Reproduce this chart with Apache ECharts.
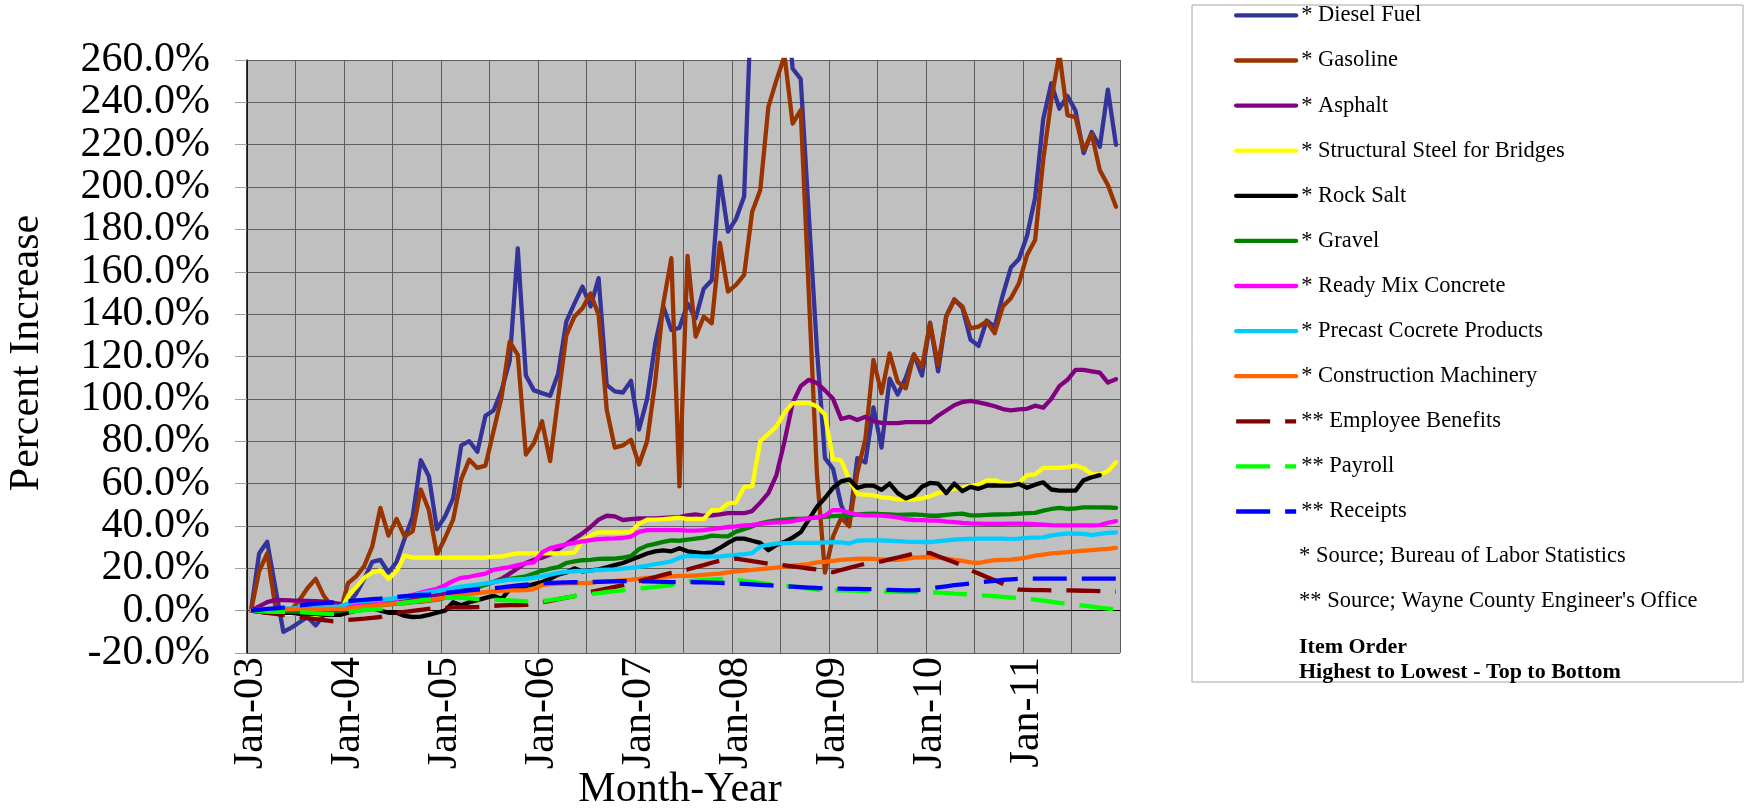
<!DOCTYPE html>
<html>
<head>
<meta charset="utf-8">
<script src="https://cdn.jsdelivr.net/npm/echarts@6/dist/echarts.min.js"></script>
<style>
html,body{margin:0;padding:0;background:#ffffff;}
#chart{width:1745px;height:809px;}
</style>
</head>
<body>
<div id="chart"></div>
<script>
// ---------- categories ----------
const monthNames = ['Jan','Feb','Mar','Apr','May','Jun','Jul','Aug','Sep','Oct','Nov','Dec'];
const yearLabels = ['03','04','05','06','07','08','09','10','11'];
const categories = [];
yearLabels.forEach(function (y) { monthNames.forEach(function (m) { categories.push(m + '-' + y); }); });

// ---------- y axis ticks ----------
const yMin = -20, yMax = 260, yStep = 20;

// ---------- series values (percent increase since Jan-03) ----------
const dieselFuel = [0,27,32.5,11,-10,-8,-5.5,-3,-7,-2,-1,0,
  3,8,15,23,24,18,23,34,44.5,71,63.5,38.5,
  44.5,53,78,80,75,92,94.5,104,118,171,111,104,
  102.7,101.5,112,136.5,145,153,143.6,157,106.6,103.5,103,108.5,
  85.5,100,126,143.6,132.5,133.5,145,138,152,156,205,179,
  185,195.5,300,320,340,350,300,256,251,187,124,72,
  67,50,41,72,70,96,77,109.5,102,110,121,111,
  136,113,139,147,143,128,125,137,134,149,162,166,
  177,195,232,249,237,243,236,216,226,219,246,220];
const gasoline = [0,18.6,27,2,-1,0.5,5,10.7,15,7,2,-1,
  13,16.2,21,30.4,48.5,35.4,43.3,35.1,37.5,57.2,47.4,26.5,
  34.3,43,62,71.3,67.4,68.5,84.7,101,127,120.8,73.7,79.2,
  89.4,70.6,100.5,130,138.8,142.8,149.8,139.6,95,77,78,80.7,
  69,80,108,145,166.4,58.7,167.5,129.4,138.8,135.7,173.7,150.6,
  153.8,158.5,188.4,198.6,237.9,250.5,262,230,236.3,150,65,18,
  35,43.8,39.8,65,81,118.4,102.7,121.5,108,105,121,115,
  135.7,116,138.8,146.7,143.6,133.3,134.1,136.5,131,143.6,147.5,154.6,
  167.9,175,212.7,241,263,234,233,217.5,225,208,201,190.7];
const asphalt = [0,2,4,5,5,4.8,4.7,4.6,4.5,4.2,3.8,3.2,
  3,3.3,3.6,4,4.3,4.6,5,5.5,6,6.5,7,7.5,
  8,8.8,10.5,11,11.5,12.3,13.5,15,17.5,20,22.5,24,
  25,26.5,29,31.5,34,36.5,39.5,43,44.8,44.5,42.8,43.2,
  43.5,43.5,43.6,43.8,44,44.2,45,45.4,44.8,45,45.5,46,
  46,46,47,51,55.5,64,80,98,106,109,107.5,104,
  100,90.5,91.5,90,91.5,89.5,88.7,88.5,88.5,89,89,89,
  89,92,94.5,97,98.5,99,98.3,97.5,96.5,95.2,94.6,95,
  95.3,96.8,95.8,100,106,109,113.7,113.7,113,112.4,107.7,109.3];
const structuralSteel = [0,-0.5,-1,-1,-1.5,-1.5,-1.5,-1.8,-2,-2,-2,-1,
  7,11,15.5,18,19,15,18.5,26,25,25,25,25,
  25,25,25,25,25,25,25.5,25.5,26.5,27,27,27,
  27,27,27,27,27.5,33,35.5,37,37,37,37,37.2,
  41,43,43,43.2,43.5,43.8,43.3,43.3,43.3,47.4,47.5,50.6,
  51,58.4,58.7,80,83.5,87,93.5,98,98.1,98,96.5,92.6,
  71.5,71,62,55,54.8,54.5,53.5,53.2,52.5,52.5,52.4,53,
  54,55.5,56.4,57.5,58,59,59.5,61.5,61.5,60.5,60,60.3,
  64,64.3,67.4,67.4,67.4,67.8,68.5,67.2,64.5,64.3,65.8,70];
const rockSalt = [0,-0.5,-1,-1,-1,-1,-1.5,-1.5,-1.5,-2,-2,-2,
  -1,0,0.5,1,0,-1,-1,-2.5,-3,-2.8,-2,-1,
  0,4,2.5,4,5,6,7,5.5,10,11,11.5,12.5,
  13.5,15,17,18,20,18.5,19,19.5,20.5,21.5,22.5,24,
  25.5,27,28,28.5,28,29.5,28,27.5,27,27.5,29.6,32,
  34,34,33,32,28.5,31,32.5,34.5,37,43,49,53.2,
  58,61,62,58,59,59,57,60,55.5,53,54.5,58.5,
  60.3,60,55.5,60,56.4,58.4,57.5,59,59,59,59,59.8,
  58,59.5,60.6,57.2,56.7,56.7,56.7,61.6,63,64];
const gravel = [0,0,0,-0.5,-0.5,-0.5,-0.5,-0.5,-0.5,-0.5,-0.5,0,
  0.5,1,1.5,2,2.5,3,3.3,3.6,4,4.3,4.7,5.2,
  6,7,8.5,10,11,12.3,13.5,14.3,15,15.6,16.2,17.5,
  18.8,19.8,20.5,22.5,23.3,23.8,24,24.4,24.5,24.6,25,25.7,
  29,30.7,31.5,32.5,33.2,33,33.5,34,34.5,35.4,35.2,35.1,
  37.3,38.5,39.8,41.2,42,42.6,43,43.3,43.3,43.6,44,44.3,
  44.6,44.9,45.1,45.4,45.7,45.8,45.6,45.4,45.2,45.3,45.4,45.2,
  44.8,44.8,45.2,45.6,45.8,45,45,45.2,45.4,45.5,45.6,45.8,
  46,46.2,47.2,48,48.5,48,48.3,48.8,48.8,48.8,48.7,48.5];
const readyMixConcrete = [0,0,0.2,0.3,0.5,0.5,0.7,0.8,1,1.2,1.5,1.8,
  2,2.5,3,3.5,4.5,5,5.5,6.5,7.5,8.5,9.5,10.3,
  12,14,15.5,16,16.8,17.5,19.3,20,20.6,21.5,22.3,22.8,
  27.5,29.5,30.5,31.3,32,32.7,33.3,33.8,34,34.1,34.3,35,
  37.2,38,38,38,38,38,37.8,37.8,38,38.5,39,39.5,
  39.8,40.2,40.5,41,41.4,41.7,41.8,42.2,43,43.6,44,44.8,
  47.5,47.4,46.2,45.4,45,45,44.9,44.5,44,43.2,42.8,42.7,
  42.5,42.5,42,41.8,41.4,41.2,41.1,41,41,41,41.1,41.1,
  41,40.8,40.6,40.4,40.3,40.3,40.3,40.3,40.3,40.4,41.5,42.3];
const precastConcrete = [0,0.3,0.5,0.7,0.9,1.1,1.3,1.5,1.6,1.7,1.8,2,
  3.5,4.3,4.6,4.9,5.2,5.5,5.9,6.3,7.2,8,8.6,9.2,
  9.9,10.7,11.3,11.8,12.3,12.9,13.5,14,14.6,14.8,15,15.6,
  16.2,17,17.8,18.3,18.6,18.8,18.9,19.2,19.4,19.5,19.8,20.2,
  20.7,21.2,22,22.6,23.3,25,25.8,25.7,25.5,25.5,25.6,26,
  26.3,26.7,27.2,30.2,31.1,31.6,31.9,32,32,32,32,32.2,
  32.4,32.2,31.7,33,33.2,33.2,33.2,33,32.8,32.6,32.5,32.4,
  32.4,32.8,33.2,33.5,33.7,33.9,34,34,34,34,33.8,34,
  34.4,34.5,34.6,35.5,36,36.4,36.4,36.2,35.6,36.2,36.7,37];
const constructionMachinery = [0,0.3,0.5,0.6,0.7,0.8,0.8,0.8,0.8,0.8,0.8,0.8,
  1,1.5,2,2.3,2.7,3,3.4,3.8,4.2,4.5,5,5.5,
  6.2,7,7.6,7.9,8.3,8.7,9.1,9.4,9.6,9.6,9.7,10.2,
  12,12.5,12.8,12.9,13,13,13.1,13.7,13.9,14,14.3,14.6,
  15,15.5,15.7,16,16.2,16.4,16.4,16.6,16.9,17.2,17.5,18.1,
  18.6,18.9,19.2,19.6,20,20.3,20.8,21.2,21.6,22,22.8,23,
  23.5,24,24.2,24.4,24.5,24.4,24.2,24,24,24.5,25,25.2,
  25.2,25,24.6,24,23.5,22.8,22.5,23.3,23.8,24,24.1,24.5,
  25.2,26,26.5,27,27.3,27.6,28,28.3,28.6,28.9,29.2,29.6];
const employeeBenefits = [0,-0.5,-1,-1.5,-2,-2.5,-3,-3.5,-4,-4.5,-5,-4.8,
  -4.4,-4.1,-3.8,-3.4,-3,-2,-1.1,-0.6,-0.1,0.4,0.8,1.1,
  1.3,1.5,1.6,1.6,1.7,2,2.3,2.5,2.6,2.6,2.7,3.2,
  3.9,4.6,5.4,6.1,6.8,7.8,8.8,9.6,10.4,11.2,12,13,
  13.9,14.9,15.9,16.9,17.8,18.6,19.4,20.5,21.5,22.6,23.6,24.1,
  24.6,24,23.4,22.8,22.2,21.8,21.4,20.9,20.4,19.9,19.4,18.8,
  18.2,19.2,20.2,21.2,22.2,22.8,23.3,24.2,25.1,26,27,27.5,
  27.2,25.7,24.3,22.8,21.3,19.1,17.5,15.9,14.3,12.7,11.2,9.9,
  9.8,9.7,9.7,9.6,9.6,9.6,9.5,9.4,9.3,9.2,9.1,9];
const payroll = [0,-0.2,-0.4,-0.6,-0.6,-0.6,-0.7,-0.9,-1.2,-1.4,-1.6,-1.2,
  -0.6,-0.2,0.2,0.5,0.8,2,3.3,3.8,4.3,4.8,5.2,5.6,
  6,6,6,5.8,5.5,5.3,5.2,5,4.8,4.6,4.4,4.4,
  4.4,5,5.6,6.2,6.8,7.4,7.9,8.3,8.8,9.2,9.6,10,
  10.4,10.8,11.2,11.6,12,12.9,13.9,14.2,14.5,14.8,15,14.8,
  14.6,14.1,13.6,13.1,12.6,12.2,11.8,11.4,10.9,10.4,9.9,9.6,
  9.6,9.6,9.5,9.3,9.2,9.1,9.1,9,8.9,8.8,8.8,8.8,
  8.8,8.5,8.3,8,7.8,7.6,7.3,7.1,6.8,6.5,6.2,6,
  5.6,5.2,4.7,4.2,3.7,3.3,2.9,2.4,1.9,1.4,1,0.5];
const receipts = [0,0.4,0.8,1.1,1.4,2,2.5,2.9,3.3,3.6,3.9,4.2,
  4.4,4.8,5.1,5.4,5.7,6.1,6.5,6.8,7.1,7.4,7.6,8,
  8.3,8.7,9.1,9.6,9.9,10.2,10.6,11,11.5,11.9,12.3,12.7,
  13,13.1,13.2,13.3,13.4,13.4,13.5,13.6,13.7,13.8,13.9,13.9,
  13.9,13.8,13.7,13.6,13.5,13.5,13.5,13.4,13.3,13.2,13.1,13,
  12.8,12.6,12.4,12.2,12,11.7,11.5,11.3,11.1,10.9,10.7,10.6,
  10.4,10.4,10.3,10.3,10.2,10.1,9.9,9.8,9.7,9.6,9.6,9.8,
  10.5,11,11.5,12,12.4,12.8,13.3,13.7,14.1,14.5,14.8,15,
  15.1,15.1,15.1,15.1,15.1,15.1,15.1,15.1,15.1,15.1,15.1,15.1];

const seriesNames = ['* Diesel Fuel','* Gasoline','* Asphalt','* Structural Steel for Bridges','* Rock Salt',
  '* Gravel','* Ready Mix Concrete','* Precast Cocrete Products','* Construction Machinery',
  '** Employee Benefits','** Payroll','** Receipts'];
const seriesData = [dieselFuel, gasoline, asphalt, structuralSteel, rockSalt, gravel, readyMixConcrete,
  precastConcrete, constructionMachinery, employeeBenefits, payroll, receipts];
const seriesColors = ['#333399','#993300','#800080','#FFFF00','#000000','#008000','#FF00FF',
  '#00CCFF','#FF6600','#800000','#00FF00','#0000FF'];
const seriesDashed = [false,false,false,false,false,false,false,false,false,true,true,true];

const noteLines = ['* Source; Bureau of Labor Statistics', "** Source; Wayne County Engineer's Office"];
const orderLines = ['Item Order', 'Highest to Lowest - Top to Bottom'];

const FONT = "'Liberation Serif', 'Times New Roman', serif";
const LINE_W = 4.3;

const chart = echarts.init(document.getElementById('chart'), null, { renderer: 'canvas' });

const series = seriesNames.map(function (name, k) {
  return {
    name: name,
    type: 'line',
    data: seriesData[k],
    symbol: 'none',
    showSymbol: false,
    silent: true,
    clip: true,
    z: 2 + k,
    itemStyle: { color: seriesColors[k] },
    lineStyle: {
      color: seriesColors[k],
      width: LINE_W,
      type: seriesDashed[k] ? [34, 15] : 'solid',
      join: 'round',
      cap: seriesDashed[k] ? 'butt' : 'round'
    },
    emphasis: { disabled: true }
  };
});

const graphics = [
  { type: 'rect', z: 0, silent: true,
    shape: { x: 1192, y: 5, width: 551, height: 677 },
    style: { fill: 'none', stroke: '#a6a6a6', lineWidth: 1 } },
  { type: 'text', silent: true, x: 27, y: 353, rotation: Math.PI / 2,
    style: { text: 'Percent Increase', fill: '#000', fontFamily: FONT, fontSize: 42,
      align: 'center', verticalAlign: 'middle', textAlign: 'center', textVerticalAlign: 'middle' } },
  { type: 'text', silent: true, x: 680, y: 790,
    style: { text: 'Month-Year', fill: '#000', fontFamily: FONT, fontSize: 42,
      align: 'center', verticalAlign: 'middle', textAlign: 'center', textVerticalAlign: 'middle' } }
];
noteLines.forEach(function (t, k) {
  graphics.push({ type: 'text', silent: true, x: 1299, y: 556 + k * 45.1,
    style: { text: t, fill: '#000', fontFamily: FONT, fontSize: 22.5,
      align: 'left', verticalAlign: 'middle', textAlign: 'left', textVerticalAlign: 'middle' } });
});
orderLines.forEach(function (t, k) {
  graphics.push({ type: 'text', silent: true, x: 1299, y: 647 + k * 25,
    style: { text: t, fill: '#000', fontFamily: FONT, fontSize: 22, fontWeight: 'bold',
      align: 'left', verticalAlign: 'middle', textAlign: 'left', textVerticalAlign: 'middle' } });
});

const option = {
  animation: false,
  backgroundColor: '#ffffff',
  textStyle: { fontFamily: FONT },
  grid: { left: 247, top: 60, width: 873, height: 593, show: true,
    backgroundColor: '#C0C0C0', borderWidth: 0 },
  legend: {
    orient: 'vertical', left: 1234, top: 3.4, padding: 0,
    itemWidth: 60, itemHeight: 14, itemGap: 21.1,
    selectedMode: false,
    itemStyle: { opacity: 0, borderWidth: 0 },
    lineStyle: { width: LINE_W },
    textStyle: { fontFamily: FONT, fontSize: 22.5, color: '#000', lineHeight: 24 },
    data: seriesNames
  },
  xAxis: {
    type: 'category',
    data: categories,
    boundaryGap: true,
    axisLine: { show: true, onZero: true, lineStyle: { color: '#000', width: 1 } },
    axisTick: { show: false, interval: 5 },
    axisLabel: { interval: 11, rotate: 90, margin: 4, fontFamily: FONT, fontSize: 42, color: '#000' },
    splitLine: { show: true, interval: 5, lineStyle: { color: '#5e5e5e', width: 1 } }
  },
  yAxis: {
    type: 'value',
    min: yMin, max: yMax, interval: yStep,
    axisLine: { show: true, lineStyle: { color: '#000', width: 1.5 } },
    axisTick: { show: true, length: 12, lineStyle: { color: '#a0a0a0', width: 1 } },
    axisLabel: { margin: 37, fontFamily: FONT, fontSize: 42, color: '#000',
      formatter: function (v) { return v.toFixed(1) + '%'; } },
    splitLine: { show: true, lineStyle: { color: '#5e5e5e', width: 1 } }
  },
  graphic: graphics,
  series: series
};
chart.setOption(option);
</script>
</body>
</html>
